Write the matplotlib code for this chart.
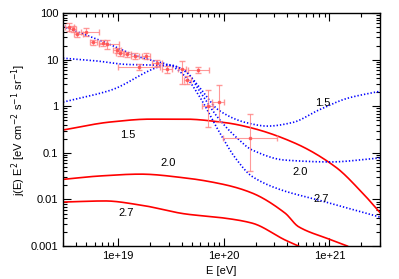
import numpy as np
import matplotlib
matplotlib.use('Agg')
from matplotlib import pyplot as plt
from matplotlib.ticker import LogLocator, NullFormatter

plt.rcParams['font.family'] = ['Liberation Sans', 'DejaVu Sans']

# measured points
E_data = [3.4e18, 3.7e18, 4.1e18, 5.0e18, 5.8e18, 7.2e18, 7.9e18, 9.8e18, 1.04e19, 1.22e19,
          1.45e19, 1.58e19, 1.84e19, 2.34e19, 2.9e19, 4.05e19, 4.5e19, 5.7e19, 7.1e19, 8.9e19, 1.78e20]
E_lo = [3.1e18, 3.4e18, 3.8e18, 4.4e18, 5.4e18, 6.6e18, 6.6e18, 9.0e18, 9.6e18, 1.12e19,
        1.33e19, 1.0e19, 1.68e19, 2.1e19, 2.6e19, 3.7e19, 4.2e19, 4.6e19, 6.25e19, 7.8e19, 9.9e19]
E_hi = [3.8e18, 4.0e18, 4.6e18, 6.5e18, 6.3e18, 7.8e18, 1.02e19, 1.07e19, 1.13e19, 1.33e19,
        1.58e19, 2.5e19, 2.0e19, 2.6e19, 3.2e19, 4.4e19, 4.9e19, 7.3e19, 7.95e19, 1.01e20, 3.2e20]
J_data = [50, 45, 35, 39, 24, 22.7, 21.6, 16, 13.9, 13.2,
          11.9, 6.9, 11.9, 8.5, 6.3, 6.3, 3.65, 6.0, 1.0, 1.22, 0.21]
J_lo = [42, 39, 31, 32, 21, 20, 17, 14, 12.3, 11.6,
        10.3, 6.0, 10.2, 7.2, 5.3, 3.0, 3.0, 5.2, 0.36, 0.46, 0.041]
J_hi = [60, 52, 39, 47, 27, 26, 27, 18, 15.7, 15,
        13.6, 8.0, 13.8, 10, 7.5, 9.5, 4.4, 7.0, 2.2, 2.86, 0.68]

# blue dotted curves (observed flux, by source index)
E_b15 = [3.0e18, 8.4e18, 3.1e19, 4.3e19, 6.0e19, 8.9e19, 1.6e20, 2.6e20, 4.5e20, 7.9e20, 1.5e21, 3.0e21]
J_b15 = [1.23, 2.2, 7.7, 5.6, 2.4, 0.83, 0.45, 0.376, 0.45, 0.83, 1.5, 2.1]
E_b20 = [3.0e18, 6.0e18, 1.22e19, 2.0e19, 3.1e19, 4.3e19, 6.0e19, 8.9e19, 1.3e20, 1.86e20, 3.8e20, 1.02e21, 3.0e21]
J_b20 = [10.8, 9.5, 7.9, 7.7, 7.5, 5.8, 2.0, 0.55, 0.22, 0.115, 0.070, 0.064, 0.078]
E_b27 = [3.0e18, 6.75e18, 1.6e19, 3.1e19, 4.3e19, 6.0e19, 8.9e19, 1.3e20, 1.86e20, 3.5e20, 7.9e20, 3.0e21]
J_b27 = [52, 26, 11.4, 7.5, 4.4, 1.5, 0.3, 0.075, 0.031, 0.016, 0.0097, 0.0042]

# red solid curves
E_r15 = [3.0e18, 8.4e18, 2.0e19, 4.3e19, 1.0e20, 1.86e20, 4.77e20, 1.14e21, 2.06e21, 3.04e21]
J_r15 = [0.31, 0.46, 0.53, 0.53, 0.45, 0.34, 0.16, 0.05, 0.0137, 0.0051]
E_r20 = [3.0e18, 6.75e18, 1.62e19, 4.3e19, 1.0e20, 1.86e20, 3.8e20, 5.1e20, 1.0e21, 1.48e21]
J_r20 = [0.027, 0.032, 0.035, 0.029, 0.021, 0.0137, 0.0051, 0.0026, 0.0014, 0.001]
E_r27 = [3.0e18, 7.5e18, 1.62e19, 4.3e19, 1.0e20, 1.86e20, 3.8e20, 5.1e20]
J_r27 = [0.0088, 0.0093, 0.0076, 0.0049, 0.0040, 0.0031, 0.00135, 0.001]

fig = plt.figure(figsize=(3.99, 2.79), dpi=100)
ax = fig.add_axes([0.158, 0.118, 0.794, 0.835])


def smooth(E, J):
    # monotone cubic through the read-off points, in log-log space
    lx = np.log10(E)
    ly = np.log10(J)
    xs = np.linspace(lx[0], lx[-1], 300)
    h = np.diff(lx)
    d = np.diff(ly) / h
    m = np.zeros(len(lx))
    m[0], m[-1] = d[0], d[-1]
    for i in range(1, len(lx) - 1):
        if d[i - 1] * d[i] > 0:
            m[i] = 2 / (1 / d[i - 1] + 1 / d[i])
    idx = np.clip(np.searchsorted(lx, xs) - 1, 0, len(lx) - 2)
    t = (xs - lx[idx]) / h[idx]
    h00 = 2 * t**3 - 3 * t**2 + 1
    h10 = t**3 - 2 * t**2 + t
    h01 = -2 * t**3 + 3 * t**2
    h11 = t**3 - t**2
    ys = h00 * ly[idx] + h10 * h[idx] * m[idx] + h01 * ly[idx + 1] + h11 * h[idx] * m[idx + 1]
    return 10**xs, 10**ys


for E, J in [(E_r15, J_r15), (E_r20, J_r20), (E_r27, J_r27)]:
    x, y = smooth(E, J)
    ax.plot(x, y, color='red', lw=1.2)

for E, J in [(E_b15, J_b15), (E_b20, J_b20), (E_b27, J_b27)]:
    x, y = smooth(E, J)
    ax.plot(x, y, color='blue', lw=1.2, ls=(0, (0.8, 1.2)))

E_data = np.array(E_data)
J_data = np.array(J_data)
xerr = [E_data - np.array(E_lo), np.array(E_hi) - E_data]
yerr = [J_data - np.array(J_lo), np.array(J_hi) - J_data]
ax.errorbar(E_data, J_data, xerr=xerr, yerr=yerr, fmt='s', ms=1.5, color='#ff5050',
            ecolor='#ff8080', elinewidth=0.8, capsize=2, alpha=0.8, zorder=3)

# curve labels
ax.text(1.22e19, 0.24, '1.5', fontsize=8, ha='center', va='center')
ax.text(2.98e19, 0.06, '2.0', fontsize=8, ha='center', va='center')
ax.text(1.19e19, 0.0051, '2.7', fontsize=8, ha='center', va='center')
ax.text(8.6e20, 1.17, '1.5', fontsize=8, ha='center', va='center')
ax.text(5.3e20, 0.039, '2.0', fontsize=8, ha='center', va='center')
ax.text(8.4e20, 0.0102, '2.7', fontsize=8, ha='center', va='center')

ax.set_xscale('log')
ax.set_yscale('log')
ax.set_xlim(3e18, 3e21)
ax.set_ylim(0.001, 100)
ax.set_xticks([1e19, 1e20, 1e21])
ax.set_xticklabels(['1e+19', '1e+20', '1e+21'])
ax.set_yticks([0.001, 0.01, 0.1, 1, 10, 100])
ax.set_yticklabels(['0.001', '0.01', '0.1', '1', '10', '100'])
ax.xaxis.set_minor_locator(LogLocator(base=10, subs=np.arange(2, 10), numticks=20))
ax.yaxis.set_minor_locator(LogLocator(base=10, subs=np.arange(2, 10), numticks=20))
ax.xaxis.set_minor_formatter(NullFormatter())
ax.yaxis.set_minor_formatter(NullFormatter())
ax.tick_params(which='both', direction='in', top=True, right=True, labelsize=8, width=0.8)
ax.tick_params(which='major', length=6)
ax.tick_params(which='minor', length=3)
for s in ax.spines.values():
    s.set_linewidth(1.0)

ax.set_xlabel('E [eV]', fontsize=8, labelpad=4)
ax.set_ylabel(r'j(E) E$^2$ [eV cm$^{-2}$ s$^{-1}$ sr$^{-1}$]', fontsize=8, labelpad=2)

plt.savefig('out.png', dpi=100)
